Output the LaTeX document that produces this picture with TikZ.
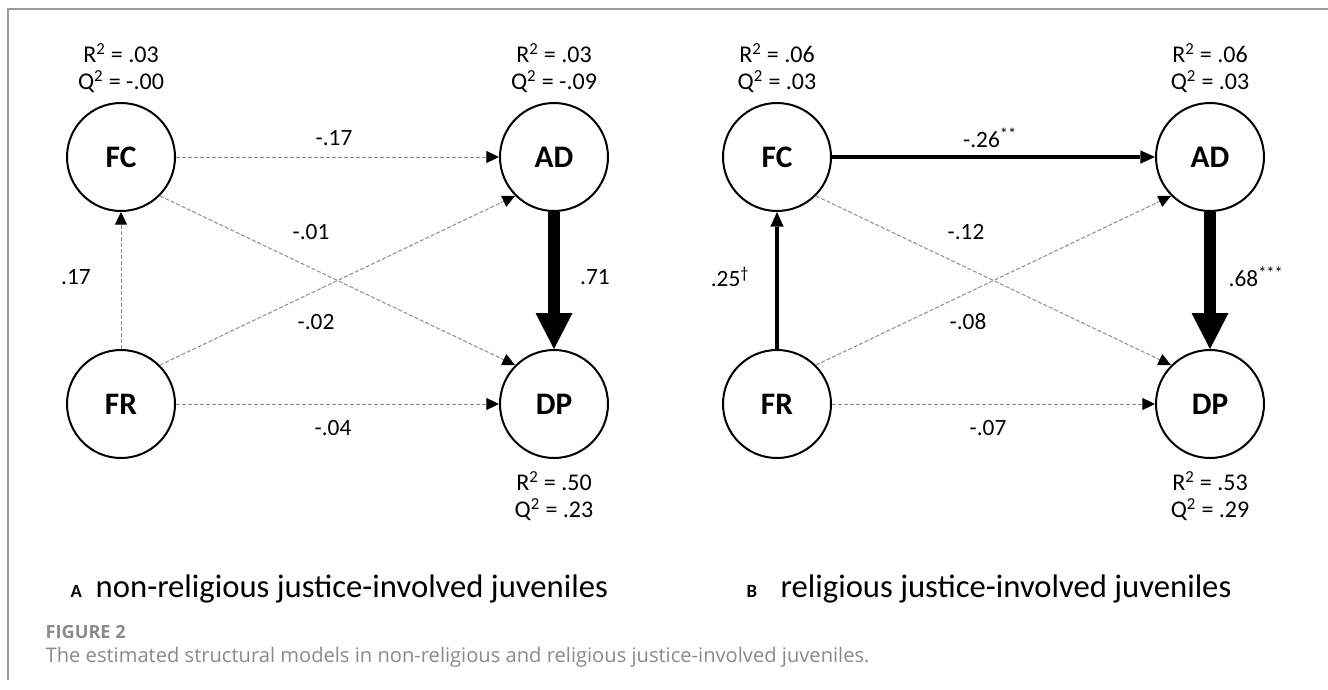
\documentclass[tikz,border=0pt]{standalone}
\usepackage{fontspec}
\setmainfont{Carlito}
\newfontfamily\capfont{Open Sans}
\usetikzlibrary{arrows.meta}
\definecolor{framegray}{HTML}{9A9A9A}
\definecolor{capgray}{HTML}{8A8A8A}
\definecolor{dashgray}{HTML}{8C8C8C}
\begin{document}
\begin{tikzpicture}[x=0.75pt,y=-0.75pt,
  lat/.style={circle,draw,line width=1.5pt,minimum size=81pt,inner sep=0pt,font=\fontsize{23.5}{24}\selectfont\bfseries},
  stat/.style={font=\fontsize{18}{20.5}\selectfont,align=center},
  elab/.style={font=\fontsize{17.5}{18}\selectfont},
  weak/.style={draw=dashgray,line width=0.75pt,dash pattern=on 3pt off 1.5pt,-{Triangle[length=9.5pt,width=9pt,color=black]}},
  midarrow/.style={line width=3.4pt,-{Triangle[length=11pt,width=10pt,line width=0pt]}},
  strongarrow/.style={line width=9pt,-{Triangle[length=27pt,width=27.75pt,line width=0pt]}},
  panelcap/.style={anchor=base west,font=\fontsize{24.5}{26}\selectfont}]
\useasboundingbox (0,0) rectangle (1328,689);
% frame
\draw[framegray,line width=1.1pt] (8,680) -- (8,9) -- (1328,9);

% ---------- Panel A ----------
\node[lat] (fcA) at (121,157) {FC};
\node[lat] (adA) at (554,157) {AD};
\node[lat] (frA) at (121,404) {FR};
\node[lat] (dpA) at (554,404) {DP};

\node[stat] (sfcA) at (121,68) {R\textsuperscript{2} = .03\\Q\textsuperscript{2} = -.00};
\node[stat] (sadA) at (554,68) {R\textsuperscript{2} = .03\\Q\textsuperscript{2} = -.09};
\node[stat] (sdpA) at (554,496) {R\textsuperscript{2} = .50\\Q\textsuperscript{2} = .23};

\draw[weak] (fcA) -- (adA);
\draw[weak] (fcA.-45) -- (dpA.135);
\draw[weak] (frA.45) -- (adA.-135);
\draw[weak] (frA) -- (dpA);
\draw[weak] (frA) -- (fcA);
\draw[strongarrow] (adA) -- (dpA);

\node[elab] (lA1) at (334,138) {-.17};
\node[elab] (lA2) at (311,232) {-.01};
\node[elab] (lA3) at (76,277) {.17};
\node[elab] (lA4) at (595,277) {.71};
\node[elab] (lA5) at (316,322) {-.02};
\node[elab] (lA6) at (333,428) {-.04};

\node[panelcap] (capA) at (66,597) {{\fontsize{14}{18}\selectfont\bfseries A}\hspace{0.42em}non-religious justice-involved juveniles};

% ---------- Panel B ----------
\node[lat] (fcB) at (777,157) {FC};
\node[lat] (adB) at (1210,157) {AD};
\node[lat] (frB) at (777,404) {FR};
\node[lat] (dpB) at (1210,404) {DP};

\node[stat] (sfcB) at (777,68) {R\textsuperscript{2} = .06\\Q\textsuperscript{2} = .03};
\node[stat] (sadB) at (1210,68) {R\textsuperscript{2} = .06\\Q\textsuperscript{2} = .03};
\node[stat] (sdpB) at (1210,496) {R\textsuperscript{2} = .53\\Q\textsuperscript{2} = .29};

\draw[midarrow] (fcB) -- (adB);
\draw[weak] (fcB.-45) -- (dpB.135);
\draw[weak] (frB.45) -- (adB.-135);
\draw[weak] (frB) -- (dpB);
\draw[midarrow] (frB) -- (fcB);
\draw[strongarrow] (adB) -- (dpB);

\node[elab] (lB1) at (990,138) {-.26\textsuperscript{**}};
\node[elab] (lB2) at (966,232) {-.12};
\node[elab] (lB3) at (730,277) {.25\textsuperscript{†}};
\node[elab] (lB4) at (1256,277) {.68\textsuperscript{***}};
\node[elab] (lB5) at (968,322) {-.08};
\node[elab] (lB6) at (988,428) {-.07};

\node[panelcap] (capB) at (742,597) {{\fontsize{14}{18}\selectfont\bfseries B}\hspace{0.72em}religious justice-involved juveniles};

% ---------- figure caption ----------
\node[anchor=base west,text=capgray,font=\capfont\bfseries\fontsize{13.6}{15}\selectfont] (figlab) at (41,638) {FIGURE 2};
\node[anchor=base west,text=capgray,font=\capfont\fontsize{15.1}{17}\selectfont] (figcap) at (41,662) {The estimated structural models in non-religious and religious justice-involved juveniles.};
\end{tikzpicture}
\end{document}
